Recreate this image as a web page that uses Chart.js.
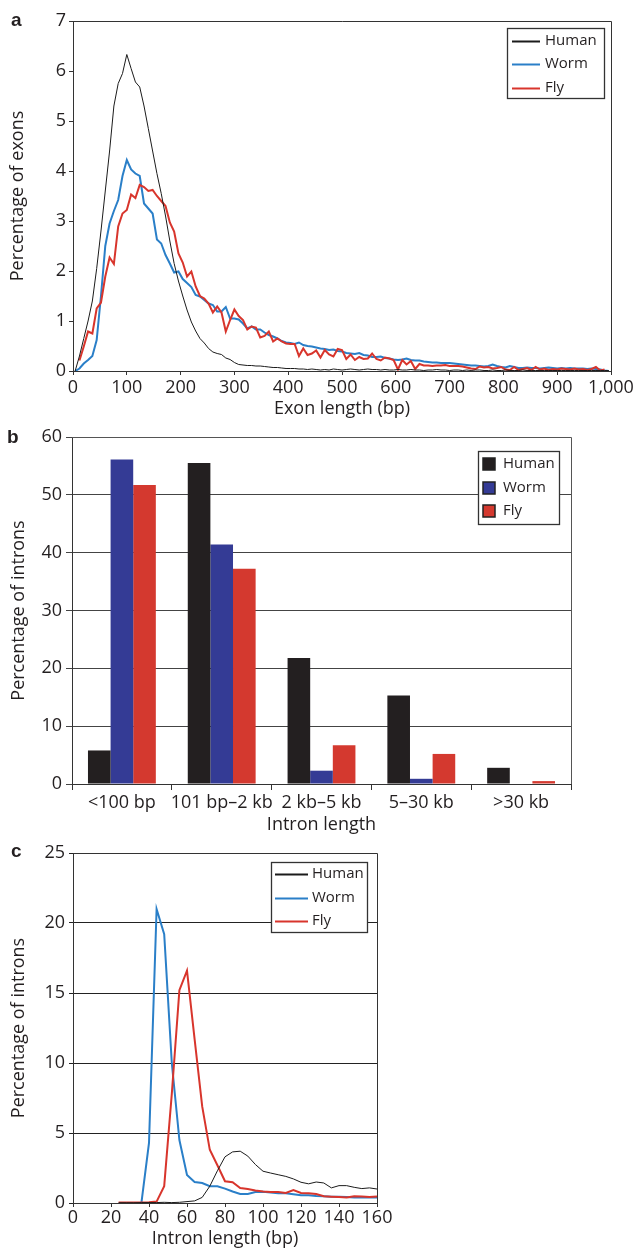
<!DOCTYPE html>
<html><head><meta charset="utf-8">
<script src="https://cdn.jsdelivr.net/npm/chart.js@4.4.1/dist/chart.umd.min.js"></script>
<style>
html,body{margin:0;padding:0;background:#fff;}
body{width:634px;height:1250px;position:relative;overflow:hidden;}
canvas{position:absolute;left:0;}
.lbl{position:absolute;font-family:"Liberation Sans",Arial,sans-serif;font-weight:bold;font-size:19px;line-height:19px;color:#231f20;}
</style></head><body>
<canvas id="ca" width="634" height="428" style="top:0px"></canvas>
<canvas id="cb" width="634" height="420" style="top:425px"></canvas>
<canvas id="cc" width="634" height="405" style="top:845px"></canvas>
<div class="lbl" style="left:11px;top:10px">a</div>
<div class="lbl" style="left:7px;top:427px">b</div>
<div class="lbl" style="left:11px;top:841px">c</div>
<script>
// ---------- Panel a: exon length distribution ----------
const exonLength = [4,12,20,28,36,44,52,60,68,76,84,92,100,108,116,124,132,140,148,156,164,172,180,188,196,204,212,220,228,236,244,252,260,268,276,284,292,300,308,316,324,332,340,348,356,364,372,380,388,396,404,412,420,428,436,444,452,460,468,476,484,492,500,508,516,524,532,540,548,556,564,572,580,588,596,604,612,620,628,636,644,652,660,668,676,684,692,700,708,716,724,732,740,748,756,764,772,780,788,796,804,812,820,828,836,844,852,860,868,876,884,892,900,908,916,924,932,940,948,956,964,972,980,988,996];
const humanExon = [0,0.3,0.65,1.0,1.4,2.05,2.8,3.6,4.4,5.3,5.75,5.95,6.33,6.05,5.78,5.68,5.3,4.85,4.4,3.95,3.55,3.1,2.6,2.15,1.8,1.5,1.22,0.98,0.8,0.65,0.56,0.45,0.38,0.35,0.33,0.26,0.23,0.17,0.13,0.12,0.11,0.11,0.1,0.1,0.09,0.08,0.07,0.07,0.06,0.05,0.05,0.05,0.04,0.04,0.03,0.04,0.03,0.02,
0.03,0.02,0.04,0.03,0.02,0.03,0.04,0.03,0.02,0.03,0.04,0.03,0.03,0.02,0.03,0.02,0.02,0.03,0.02,0.02,0.03,0.02,0.02,0.01,0.02,0.02,0.03,0.02,0.02,0.01,0.02,0.02,0.01,0.02,0.01,0.02,0.02,0.01,0.01,0.02,0.01,0.01,0.02,0.01,0.01,0.01,0.02,0.01,0.01,0.01,0.01,0.01,0.01,0.01,0.01,0.01,0.01,0.01,0.01,0.01,0.01,0.01,0.01,0.01,0.01,0.01,0.01];
const wormExon = [0,0.05,0.15,0.22,0.3,0.62,1.5,2.5,2.95,3.2,3.42,3.9,4.22,4.03,3.95,3.9,3.35,3.25,3.15,2.63,2.55,2.32,2.15,1.97,1.99,1.84,1.76,1.68,1.52,1.49,1.42,1.35,1.32,1.19,1.19,1.28,1.05,1.05,1.03,0.95,0.85,0.89,0.83,0.83,0.77,0.72,0.69,0.65,0.6,0.57,0.56,0.54,0.57,0.52,0.5,0.49,0.47,0.45,0.44,0.42,0.43,0.4,0.39,0.36,0.35,0.34,0.36,0.32,0.31,0.28,0.28,0.29,0.26,0.25,0.23,0.22,0.23,0.25,0.22,0.21,0.21,0.19,0.18,0.17,0.17,0.16,0.16,0.16,0.15,0.14,0.13,0.12,0.11,0.11,0.1,0.09,0.1,0.13,0.1,0.08,0.07,0.1,0.08,0.06,0.06,0.07,0.06,0.06,0.05,0.06,0.07,0.06,0.05,0.06,0.05,0.06,0.05,0.05,0.05,0.04,0.05,0.04,0.03,0.01,0];
const flyExon = [null,0.21,0.49,0.79,0.75,1.25,1.37,1.89,2.27,2.14,2.89,3.15,3.22,3.53,3.46,3.72,3.68,3.6,3.62,3.5,3.4,3.3,2.97,2.79,2.35,2.17,1.89,1.99,1.69,1.5,1.45,1.35,1.17,1.29,1.17,0.79,1.02,1.23,1.1,1.02,0.83,0.89,0.87,0.67,0.7,0.79,0.59,0.65,0.59,0.55,0.54,0.54,0.3,0.45,0.32,0.35,0.41,0.27,0.42,0.33,0.29,0.44,0.42,0.24,0.33,0.22,0.28,0.24,0.25,0.35,0.24,0.21,0.27,0.25,0.22,0.03,0.22,0.13,0.2,0.04,0.14,0.11,0.11,0.1,0.11,0.11,0.12,0.1,0.1,0.1,0.09,0.07,0.05,0.04,0.09,0.07,0.08,0.05,0.06,0.08,0.03,0.02,0.08,0.02,0.04,0.06,0.02,0.08,0.03,0.05,0.02,0.04,0.03,0.05,0.04,0.03,0.05,0.03,0.04,0.02,0.04,0.08,0.01,0.03,null];
const exonXTicks = [0,100,200,300,400,500,600,700,800,900,1000];
const exonXTickLabels = ['0','100','200','300','400','500','600','700','800','900','1,000'];
const exonYTicks = [0,1,2,3,4,5,6,7];

// ---------- Panel b: intron length classes ----------
const intronClasses = ['<100 bp','101 bp\u20132 kb','2 kb\u20135 kb','5\u201330 kb','>30 kb'];
const humanIntron = [5.8,55.5,21.8,15.3,2.8];
const wormIntron = [56.1,41.4,2.3,0.9,0];
const flyIntron = [51.7,37.2,6.7,5.2,0.5];
const intronYTicks = [0,10,20,30,40,50,60];

// ---------- Panel c: short intron length distribution ----------
const shortIntronLength = [24,28,32,36,40,44,48,52,56,60,64,68,72,76,80,84,88,92,96,100,104,108,112,116,120,124,128,132,136,140,144,148,152,156,160];
const humanShort = [0.02,0.02,0.02,0.03,0.03,0.03,0.05,0.03,0.05,0.1,0.15,0.4,1.2,2.3,3.3,3.65,3.7,3.35,2.75,2.27,2.14,2.02,1.9,1.72,1.48,1.37,1.5,1.43,1.08,1.24,1.24,1.12,1.03,1.08,1.0];
const wormShort = [null,null,null,0,4.3,21.0,19.2,10.0,4.5,2.0,1.5,1.43,1.2,1.2,1.03,0.82,0.65,0.64,0.78,0.8,0.75,0.7,0.7,0.62,0.55,0.55,0.5,0.48,0.45,0.45,0.42,0.4,0.4,0.4,0.4];
const flyShort = [0.03,0.03,0.03,0.04,0.05,0.1,1.2,7.8,15.2,16.6,11.7,6.9,3.8,2.7,1.55,1.48,1.07,1.0,0.9,0.82,0.79,0.79,0.72,0.93,0.72,0.69,0.64,0.48,0.45,0.42,0.4,0.48,0.47,0.43,0.47];
const shortXTicks = [0,20,40,60,80,100,120,140,160];
const shortYTicks = [0,5,10,15,20,25];

// ---------- shared styling ----------
const FAMILY = '"Open Sans", "Noto Sans", sans-serif';
const TXT = '#231f20';
const AX = '#333333';
const C_HUMAN = '#1b1b1b', C_WORM = '#2a7fc8', C_FLY = '#d8352c';
const B_HUMAN = '#231f20', B_WORM = '#343b95', B_FLY = '#d4392f';

function pts(xs, ys){ return xs.map((x,i)=>({x:x, y:ys[i]})); }

const deco = {
  id: 'deco',
  afterDraw(chart, args, o) {
    const ctx = chart.ctx;
    const a = chart.chartArea;
    ctx.save();
    // frame (top + right)
    ctx.strokeStyle = o.frameColor; ctx.lineWidth = 1;
    ctx.beginPath();
    ctx.moveTo(Math.round(a.left), Math.round(a.top) + 0.5);
    ctx.lineTo(Math.round(a.right) + 0.5, Math.round(a.top) + 0.5);
    ctx.lineTo(Math.round(a.right) + 0.5, Math.round(a.bottom));
    ctx.stroke();
    // legend box
    const L = o.legend;
    ctx.fillStyle = '#fff';
    ctx.fillRect(L.x, L.y, L.w, L.h);
    ctx.strokeStyle = '#333'; ctx.lineWidth = 1.3;
    ctx.strokeRect(L.x + 0.5, L.y + 0.5, L.w, L.h);
    ctx.font = '15px ' + FAMILY;
    ctx.textBaseline = 'middle';
    ctx.textAlign = 'left';
    chart.data.datasets.forEach((ds, i) => {
      const cy = L.rows[i];
      if (L.kind === 'line') {
        ctx.strokeStyle = ds.borderColor; ctx.lineWidth = 2;
        ctx.beginPath(); ctx.moveTo(L.sx, cy + 0.5); ctx.lineTo(L.ex, cy + 0.5); ctx.stroke();
      } else {
        ctx.fillStyle = ds.backgroundColor;
        ctx.fillRect(L.sx, cy - 6, 12, 12);
        ctx.strokeStyle = '#222'; ctx.lineWidth = 1.5;
        ctx.strokeRect(L.sx, cy - 6, 12, 12);
      }
      ctx.fillStyle = TXT;
      ctx.fillText(ds.label, L.tx, cy);
    });
    ctx.restore();
  }
};

function tickFont(){ return {family: FAMILY, size: 18}; }
function titleFont(){ return {family: FAMILY, size: 18}; }

// ---------- Chart a ----------
new Chart(document.getElementById('ca'), {
  type: 'line',
  data: { datasets: [
    {label:'Human', data: pts(exonLength, humanExon), borderColor: C_HUMAN, borderWidth: 1, order: 0},
    {label:'Worm', data: pts(exonLength, wormExon), borderColor: C_WORM, borderWidth: 2, order: 2},
    {label:'Fly', data: pts(exonLength, flyExon), borderColor: C_FLY, borderWidth: 2, order: 1}
  ]},
  options: {
    responsive: false, animation: false, events: [],
    layout: {padding: {top: 21, right: 23, bottom: 0, left: 0}},
    elements: {point: {radius: 0}, line: {tension: 0}},
    plugins: {
      legend: {display: false}, tooltip: {enabled: false},
      deco: {frameColor: '#333', legend: {kind:'line', x:507, y:28, w:97, h:70, rows:[41,64,88], sx:512, ex:540, tx:545}}
    },
    scales: {
      x: {
        type: 'linear', min: 0, max: 1000,
        afterBuildTicks: s => { s.ticks = exonXTicks.map(v => ({value: v})); },
        ticks: {callback: (v, i) => exonXTickLabels[i], autoSkip: false, maxRotation: 0, padding: 2, color: TXT, font: tickFont()},
        grid: {drawOnChartArea: false, drawTicks: true, tickLength: 4, color: AX},
        border: {color: AX},
        title: {display: true, text: 'Exon length (bp)', color: TXT, font: titleFont(), padding: {top: 0, bottom: 8}},
        afterFit: s => { s.height = 57; s.paddingLeft = 0; s.paddingRight = 0; }
      },
      y: {
        type: 'linear', min: 0, max: 7,
        afterBuildTicks: s => { s.ticks = exonYTicks.map(v => ({value: v})); },
        ticks: {callback: v => String(v), padding: 3, color: TXT, font: tickFont()},
        grid: {drawOnChartArea: false, drawTicks: true, tickLength: 4, color: AX},
        border: {color: AX},
        title: {display: true, text: 'Percentage of exons', color: TXT, font: titleFont(), padding: {top: 7, bottom: 0}},
        afterFit: s => { s.width = 73; s.paddingTop = 0; s.paddingBottom = 0; }
      }
    }
  },
  plugins: [deco]
});

// ---------- Chart b ----------
new Chart(document.getElementById('cb'), {
  type: 'bar',
  data: {
    labels: intronClasses,
    datasets: [
      {label:'Human', data: humanIntron, backgroundColor: B_HUMAN},
      {label:'Worm', data: wormIntron, backgroundColor: B_WORM},
      {label:'Fly', data: flyIntron, backgroundColor: B_FLY}
    ]
  },
  options: {
    responsive: false, animation: false, events: [],
    layout: {padding: {top: 12, right: 63, bottom: 0, left: 0}},
    datasets: {bar: {categoryPercentage: 0.68, barPercentage: 1.0, borderWidth: 0}},
    plugins: {
      legend: {display: false}, tooltip: {enabled: false},
      deco: {frameColor: '#555', legend: {kind:'box', x:478, y:26, w:81, h:73, rows:[39,63,86], sx:483, tx:503}}
    },
    scales: {
      x: {
        type: 'category',
        ticks: {autoSkip: false, maxRotation: 0, padding: 2, color: TXT, font: tickFont()},
        grid: {offset: true, drawOnChartArea: false, drawTicks: true, tickLength: 6, color: AX},
        border: {color: AX},
        title: {display: true, text: 'Intron length', color: TXT, font: titleFont(), padding: {top: 0, bottom: 9}},
        afterFit: s => { s.height = 61; s.paddingLeft = 0; s.paddingRight = 0; }
      },
      y: {
        type: 'linear', min: 0, max: 60,
        afterBuildTicks: s => { s.ticks = intronYTicks.map(v => ({value: v})); },
        ticks: {callback: v => String(v), padding: 4, color: TXT, font: tickFont()},
        grid: {drawOnChartArea: true, drawTicks: true, tickLength: 6, color: '#444'},
        border: {color: AX},
        title: {display: true, text: 'Percentage of introns', color: TXT, font: titleFont(), padding: {top: 8, bottom: 0}},
        afterFit: s => { s.width = 72; s.paddingTop = 0; s.paddingBottom = 0; }
      }
    }
  },
  plugins: [deco]
});

// ---------- Chart c ----------
new Chart(document.getElementById('cc'), {
  type: 'line',
  data: { datasets: [
    {label:'Human', data: pts(shortIntronLength, humanShort), borderColor: C_HUMAN, borderWidth: 1, order: 0},
    {label:'Worm', data: pts(shortIntronLength, wormShort), borderColor: C_WORM, borderWidth: 2, order: 2},
    {label:'Fly', data: pts(shortIntronLength, flyShort), borderColor: C_FLY, borderWidth: 2, order: 1}
  ]},
  options: {
    responsive: false, animation: false, events: [],
    layout: {padding: {top: 8, right: 257, bottom: 0, left: 0}},
    elements: {point: {radius: 0}, line: {tension: 0}},
    plugins: {
      legend: {display: false}, tooltip: {enabled: false},
      deco: {frameColor: '#333', legend: {kind:'line', x:271, y:17, w:96, h:70, rows:[29,53,76], sx:275, ex:308, tx:312}}
    },
    scales: {
      x: {
        type: 'linear', min: 0, max: 160,
        afterBuildTicks: s => { s.ticks = shortXTicks.map(v => ({value: v})); },
        ticks: {callback: v => String(v), autoSkip: false, maxRotation: 0, padding: 0, color: TXT, font: tickFont()},
        grid: {drawOnChartArea: false, drawTicks: true, tickLength: 4, color: AX},
        border: {color: AX},
        title: {display: true, text: 'Intron length (bp)', color: TXT, font: titleFont(), padding: {top: 0, bottom: 0}},
        afterFit: s => { s.height = 47; s.paddingLeft = 0; s.paddingRight = 0; }
      },
      y: {
        type: 'linear', min: 0, max: 25,
        afterBuildTicks: s => { s.ticks = shortYTicks.map(v => ({value: v})); },
        ticks: {callback: v => String(v), padding: 4, color: TXT, font: tickFont()},
        grid: {drawOnChartArea: true, drawTicks: true, tickLength: 4, color: '#222'},
        border: {color: AX},
        title: {display: true, text: 'Percentage of introns', color: TXT, font: titleFont(), padding: {top: 8, bottom: 0}},
        afterFit: s => { s.width = 73; s.paddingTop = 0; s.paddingBottom = 0; }
      }
    }
  },
  plugins: [deco]
});
</script>
</body></html>
